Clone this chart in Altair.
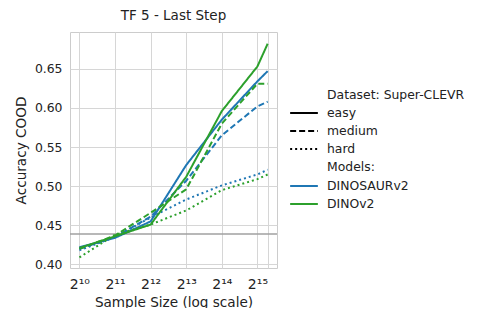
import altair as alt
import pandas as pd

sample_sizes = [1024, 2048, 4096, 8192, 16384, 32768, 40000]
models = ["DINOSAURv2", "DINOv2"]
model_colors = ["#1f77b4", "#2ca02c"]
difficulties = ["easy", "medium", "hard"]

dinosaur_easy = [0.422, 0.434, 0.455, 0.527, 0.585, 0.634, 0.647]
dinosaur_medium = [0.420, 0.435, 0.461, 0.507, 0.565, 0.602, 0.608]
dinosaur_hard = [0.418, 0.435, 0.460, 0.483, 0.501, 0.515, 0.521]
dinov2_easy = [0.421, 0.436, 0.451, 0.512, 0.596, 0.653, 0.682]
dinov2_medium = [0.420, 0.437, 0.466, 0.496, 0.580, 0.631, 0.631]
dinov2_hard = [0.409, 0.438, 0.451, 0.469, 0.495, 0.509, 0.515]
baseline = 0.439

x_tick_values = [1024, 2048, 4096, 8192, 16384, 32768, 40000]
x_tick_labels = ["2¹⁰", "2¹¹", "2¹²", "2¹³", "2¹⁴", "2¹⁵", ""]
y_tick_values = [0.40, 0.45, 0.50, 0.55, 0.60, 0.65]
legend_titles_text = ["Dataset: Super-CLEVR", "Models:"]

series = {
    ("DINOSAURv2", "easy"): dinosaur_easy,
    ("DINOSAURv2", "medium"): dinosaur_medium,
    ("DINOSAURv2", "hard"): dinosaur_hard,
    ("DINOv2", "easy"): dinov2_easy,
    ("DINOv2", "medium"): dinov2_medium,
    ("DINOv2", "hard"): dinov2_hard,
}
rows = []
for (m, d), vals in series.items():
    for s, v in zip(sample_sizes, vals):
        rows.append({"model": m, "difficulty": d, "size": s, "acc": v})
df = pd.DataFrame(rows)

FONT = "DejaVu Sans"
TXT = "#222222"
label_expr = "[" + ",".join(f"'{l}'" for l in x_tick_labels) + "][indexof([" + ",".join(str(v) for v in x_tick_values) + "], datum.value)]"

x_enc = alt.X(
    "size:Q",
    scale=alt.Scale(type="log", base=2, domain=[2 ** 9.736, 2 ** 15.55], nice=False, zero=False),
    axis=alt.Axis(values=x_tick_values, labelExpr=label_expr, title="Sample Size (log scale)",
                  labelOverlap=False, labelFlush=False, labelFontSize=14,
                  labelPadding=9, titlePadding=4),
)
y_enc = alt.Y(
    "acc:Q",
    scale=alt.Scale(domain=[0.3955, 0.697], nice=False, zero=False),
    axis=alt.Axis(values=y_tick_values, format=".2f", title="Accuracy COOD",
                  labelPadding=8, titlePadding=6),
)

legend_common = dict(
    title=None, orient="none", symbolType="M-1.6,0H1.6", symbolSize=300, symbolStrokeWidth=2,
    labelFontSize=12.4, labelFont=FONT, labelColor=TXT, rowPadding=1, labelOffset=13, padding=0,
)

lines = alt.Chart(df).mark_line(strokeWidth=2, clip=True).encode(
    x=x_enc,
    y=y_enc,
    color=alt.Color(
        "model:N",
        scale=alt.Scale(domain=models, range=model_colors),
        legend=alt.Legend(legendX=224, legendY=144, **legend_common),
    ),
    strokeDash=alt.StrokeDash(
        "difficulty:N",
        scale=alt.Scale(domain=difficulties, range=[[1, 0], [6, 3], [2, 3]]),
        legend=alt.Legend(legendX=224, legendY=71, symbolStrokeColor="black", **legend_common),
    ),
    order=alt.Order("size:Q"),
)

base_rule = alt.Chart(pd.DataFrame({"acc": [baseline]})).mark_rule(
    color="#a0a0a0", strokeWidth=1.5
).encode(y=alt.Y("acc:Q"))

legend_titles = alt.Chart(pd.DataFrame({"t": legend_titles_text, "py": [63, 135]})).mark_text(
    align="left", baseline="middle", font=FONT, fontSize=12.4, color=TXT
).encode(text="t:N", x=alt.value(257), y=alt.Y("py:Q", scale=None))

chart = alt.layer(base_rule, lines, legend_titles).properties(
    width=207, height=236,
    title=alt.TitleParams("TF 5 - Last Step", fontSize=13.5, font=FONT, fontWeight="normal",
                          color=TXT, offset=10),
    autosize=alt.AutoSizeParams(type="none"),
    padding={"left": 62, "top": 24, "right": 195, "bottom": 40},
).configure_view(
    stroke="#cccccc", strokeWidth=1
).configure_axis(
    grid=True, gridColor="#d6d6d6", gridWidth=1, domain=False, ticks=False,
    labelFont=FONT, labelFontSize=12.4, labelColor=TXT,
    titleFont=FONT, titleFontSize=13.6, titleFontWeight="normal", titleColor=TXT,
)

chart.save("out.html", embed_options={"renderer": "svg", "actions": False})
